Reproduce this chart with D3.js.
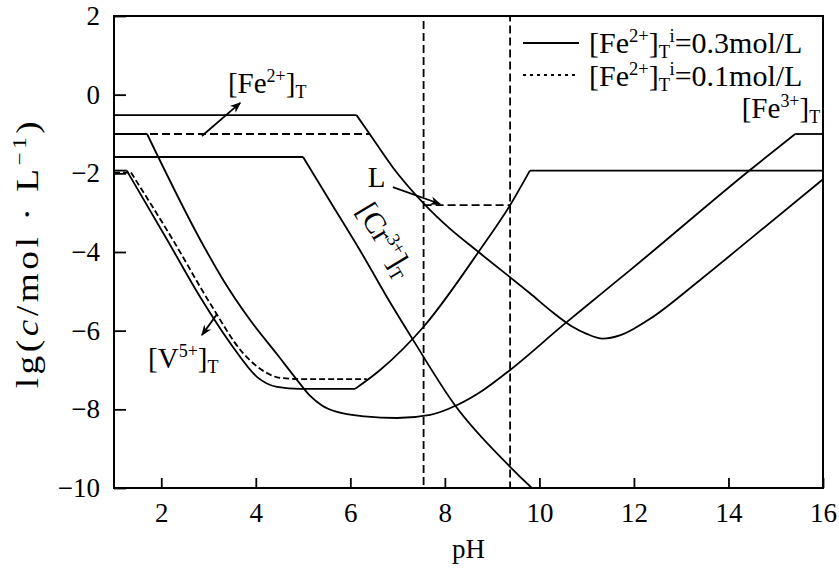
<!doctype html>
<html>
<head>
<meta charset="UTF-8">
<title>lg c - pH</title>
<script src="https://cdn.jsdelivr.net/npm/d3@7"></script>
<style>
  body { margin: 0; background: #fff; }
  svg text { font-family: "Liberation Serif", "Times New Roman", serif; fill: #000; }
</style>
</head>
<body>
<svg id="chart" width="839" height="568"></svg>
<script>
// ---- data (pH, lg c) ----
var xTicks = [2, 4, 6, 8, 10, 12, 14, 16];
var yTicks = [2, 0, -2, -4, -6, -8, -10];

// [Fe2+]T, 0.3 mol/L start (solid)
var fe2Flat  = [[1, -0.52], [6.13, -0.52]];
var fe2Curve = [[6.13, -0.52], [6.42, -1.02], [6.9, -1.85], [7.54, -2.75], [8.1, -3.4], [8.68, -3.97],
                [9.8, -5.05], [10.3, -5.55], [10.7, -5.9], [11.0, -6.08], [11.34, -6.2], [11.7, -6.12],
                [12.0, -5.95], [12.34, -5.7], [13.4, -4.71], [14.45, -3.68], [16, -2.15]];
// [Fe2+]T, 0.1 mol/L start (dashed part)
var fe2DashFlat = [[1, -1.0], [6.42, -1.0]];

// [Fe3+]T
var fe3Flat1 = [[1, -1.0], [1.7, -1.0]];
var fe3Curve = [[1.7, -1.0], [2.83, -3.70], [3.31, -4.71], [3.88, -5.73], [4.45, -6.6], [4.87, -7.25],
                [5.15, -7.66], [5.4, -7.9], [5.7, -8.06], [6.3, -8.18], [6.99, -8.22], [7.69, -8.14],
                [8.26, -7.89], [8.8, -7.52], [9.38, -7.0], [10.5, -5.86], [11.28, -5.09], [11.92, -4.46],
                [14.45, -1.92], [15.41, -1.0]];
var fe3Flat2 = [[15.41, -1.0], [16, -1.0]];

// [Cr3+]T
var crFlat  = [[1, -1.585], [5.0, -1.585]];
var crCurve = [[5.0, -1.585], [5.57, -2.71], [6.2, -3.95], [6.9, -5.4], [7.33, -6.24], [8.21, -7.89],
               [9.38, -9.46], [9.84, -10.0], [10.3, -10.5]];

// [V5+]T solid
var vFlat    = [[1, -1.93], [1.27, -1.93]];
var vCurve   = [[1.27, -1.93], [2.13, -3.70], [2.82, -5.14], [3.52, -6.42], [4.03, -7.18], [4.45, -7.43],
                [4.93, -7.48], [6.10, -7.48]];
var vRise    = [[6.10, -7.48], [6.63, -7.0], [7.55, -5.90], [8.74, -3.95], [9.38, -2.81], [9.80, -1.93]];
var vPlateau = [[9.80, -1.93], [16, -1.93]];

// [V5+]T dashed
var vdFlat  = [[1, -1.98], [1.36, -1.98]];
var vdCurve = [[1.36, -1.98], [2.25, -3.70], [3.03, -5.30], [3.73, -6.57], [4.24, -7.08], [4.51, -7.20],
               [5.0, -7.23], [6.35, -7.23]];

// L line and the pH window
var lLine = [[7.55, -2.81], [9.38, -2.81]];
var pHWindow = [7.55, 9.38];

// ---- chart ----
var svg = d3.select("#chart"),
    margin = {top: 16, right: 16, bottom: 80, left: 114},
    width = +svg.attr("width") - margin.left - margin.right,
    height = +svg.attr("height") - margin.top - margin.bottom;

var x = d3.scaleLinear().domain([1, 16]).range([margin.left, margin.left + width]),
    y = d3.scaleLinear().domain([-10, 2]).range([margin.top + height, margin.top]);

svg.append("defs").append("clipPath").attr("id", "plotclip")
  .append("rect").attr("x", margin.left).attr("y", margin.top)
  .attr("width", width).attr("height", height);

svg.select("defs").append("marker")
  .attr("id", "arrow").attr("viewBox", "0 0 10 10")
  .attr("refX", 9).attr("refY", 5)
  .attr("markerWidth", 11).attr("markerHeight", 11)
  .attr("markerUnits", "userSpaceOnUse")
  .attr("orient", "auto")
  .append("path").attr("d", "M0,1 L10,5 L0,9 L3,5 Z").attr("fill", "#000");

var straight = d3.line().x(function(d) { return x(d[0]); }).y(function(d) { return y(d[1]); });
var smooth = d3.line().curve(d3.curveMonotoneX).x(function(d) { return x(d[0]); }).y(function(d) { return y(d[1]); });

var plot = svg.append("g").attr("clip-path", "url(#plotclip)");

function draw(data, gen, dash) {
  plot.append("path")
    .attr("d", gen(data))
    .attr("fill", "none")
    .attr("stroke", "#000")
    .attr("stroke-width", 1.8)
    .attr("stroke-dasharray", dash || null);
}

draw(fe2Flat, straight);
draw(fe2Curve, smooth);
draw(fe2DashFlat, straight, "8,4");
draw(fe3Flat1, straight);
draw(fe3Curve, smooth);
draw(fe3Flat2, straight);
draw(crFlat, straight);
draw(crCurve, smooth);
draw(vFlat, straight);
draw(vCurve, smooth);
draw(vRise, smooth);
draw(vPlateau, straight);
draw(vdFlat, straight, "6,3");
draw(vdCurve, smooth, "6,3");
draw(lLine, straight, "8,4");

// dashed pH window
plot.append("rect")
  .attr("x", x(pHWindow[0])).attr("y", y(2))
  .attr("width", x(pHWindow[1]) - x(pHWindow[0])).attr("height", y(-10) - y(2))
  .attr("fill", "none").attr("stroke", "#000").attr("stroke-width", 1.8)
  .attr("stroke-dasharray", "8,4");

// axes
var xAxis = svg.append("g")
  .attr("transform", "translate(0," + (margin.top + height) + ")")
  .call(d3.axisBottom(x).tickValues(xTicks).tickSizeInner(-10).tickSizeOuter(0).tickPadding(15));
var yAxis = svg.append("g")
  .attr("transform", "translate(" + margin.left + ",0)")
  .call(d3.axisLeft(y).tickValues(yTicks).tickSizeInner(-12).tickSizeOuter(0).tickPadding(14));

[xAxis, yAxis].forEach(function(a) {
  a.select(".domain").remove();
  a.selectAll(".tick line").attr("stroke", "#000").attr("stroke-width", 1.8);
  a.selectAll(".tick text").attr("font-size", 27).attr("font-family", "Liberation Serif");
});

svg.append("rect")
  .attr("x", margin.left).attr("y", margin.top)
  .attr("width", width).attr("height", height)
  .attr("fill", "none").attr("stroke", "#000").attr("stroke-width", 2);

// rich text helper: parts = [[text, kind]], kind: n | sup | sub | it
function rich(sel, parts, size) {
  parts.forEach(function(p) {
    var t = sel.append("tspan").text(p[0]);
    if (p[1] === "sup") t.attr("font-size", size * 0.62).attr("baseline-shift", size * 0.38);
    else if (p[1] === "sub") t.attr("font-size", size * 0.62).attr("baseline-shift", -size * 0.16);
    else if (p[1] === "it") t.attr("font-style", "italic");
  });
  return sel;
}

// axis titles
svg.append("text")
  .attr("x", x(8.5)).attr("y", 558)
  .attr("text-anchor", "middle").attr("font-size", 27)
  .text("pH");

var yt = svg.append("text")
  .attr("transform", "translate(38," + (margin.top + height / 2 + 1) + ") rotate(-90) scale(1.2,1)")
  .attr("text-anchor", "middle").attr("font-size", 31)
  .style("letter-spacing", "3px");
rich(yt, [["lg(", "n"], ["c", "it"], ["/mol · L", "n"], ["−1", "sup"], [")", "n"]], 31);

// legend
var legend = svg.append("g");
legend.append("line").attr("x1", 523).attr("x2", 579).attr("y1", 43).attr("y2", 43)
  .attr("stroke", "#000").attr("stroke-width", 1.8);
legend.append("line").attr("x1", 523).attr("x2", 579).attr("y1", 75).attr("y2", 75)
  .attr("stroke", "#000").attr("stroke-width", 1.8).attr("stroke-dasharray", "3,4");
rich(legend.append("text").attr("x", 589).attr("y", 53).attr("font-size", 30),
  [["[Fe", "n"], ["2+", "sup"], ["]", "n"], ["T", "sub"], ["i", "sup"], ["=0.3mol/L", "n"]], 30);
rich(legend.append("text").attr("x", 589).attr("y", 86).attr("font-size", 30),
  [["[Fe", "n"], ["2+", "sup"], ["]", "n"], ["T", "sub"], ["i", "sup"], ["=0.1mol/L", "n"]], 30);

// annotations
function arrow(a, b) {
  svg.append("line")
    .attr("x1", x(a[0])).attr("y1", y(a[1])).attr("x2", x(b[0])).attr("y2", y(b[1]))
    .attr("stroke", "#000").attr("stroke-width", 1.8)
    .attr("marker-end", "url(#arrow)");
}

rich(svg.append("text").attr("x", x(3.41)).attr("y", y(0.04)).attr("font-size", 29),
  [["[Fe", "n"], ["2+", "sup"], ["]", "n"], ["T", "sub"]], 29);
arrow([2.86, -1.05], [3.67, -0.21]);

svg.append("text").attr("x", x(6.37)).attr("y", y(-2.35)).attr("font-size", 29).text("L");
arrow([6.9, -2.35], [7.9, -2.78]);

rich(svg.append("text").attr("x", x(1.72)).attr("y", y(-6.95)).attr("font-size", 29),
  [["[V", "n"], ["5+", "sup"], ["]", "n"], ["T", "sub"]], 29);
arrow([3.18, -5.58], [2.86, -6.11]);

rich(svg.append("text").attr("x", x(15.94)).attr("y", y(-0.59)).attr("font-size", 29)
    .attr("text-anchor", "end"),
  [["[Fe", "n"], ["3+", "sup"], ["]", "n"], ["T", "sub"]], 29);

rich(svg.append("text")
    .attr("transform", "translate(" + x(6.56) + "," + y(-3.82) + ") rotate(59)")
    .attr("text-anchor", "middle").attr("font-size", 30),
  [["[Cr", "n"], ["3+", "sup"], ["]", "n"], ["T", "sub"]], 30);
</script>
</body>
</html>
